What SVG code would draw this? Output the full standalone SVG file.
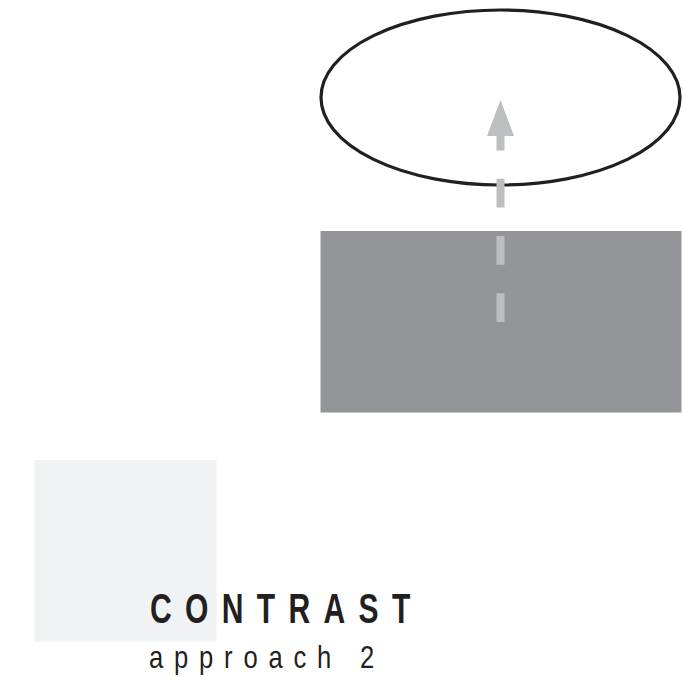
<svg xmlns="http://www.w3.org/2000/svg" width="684" height="685" viewBox="0 0 684 685">
<style>
.title{font-family:"Liberation Sans",Arial,sans-serif;font-weight:bold;font-size:43px;fill:#231f20}
.sub{font-family:"Liberation Sans",Arial,sans-serif;font-size:32px;fill:#231f20}
</style>
<rect width="684" height="685" fill="#ffffff"/>
<g id="bg-square"><rect x="34.5" y="460" width="182" height="181.5" fill="#f1f2f3"/></g>
<g id="target"><ellipse cx="500.5" cy="97.5" rx="179.5" ry="87.5" fill="none" stroke="#231f20" stroke-width="3.2"/></g>
<g id="source"><rect x="320.5" y="231" width="361" height="181.5" fill="#939598"/></g>
<g id="connectors">
<line x1="500.5" y1="322" x2="500.5" y2="136" stroke="#bcbec0" stroke-width="8" stroke-dasharray="28.8 28.4"/>
<path d="M487 136 L500.5 100 L514 136 Z" fill="#bcbec0"/>
</g>
<g id="label">
<text class="title" transform="translate(150,623) scale(0.7,1)" x="0" y="0" letter-spacing="19">CONTRAST</text>
<text class="sub" transform="translate(149,668) scale(0.8,1)" x="0" y="0" letter-spacing="13.5">approach 2</text>
</g>
</svg>
